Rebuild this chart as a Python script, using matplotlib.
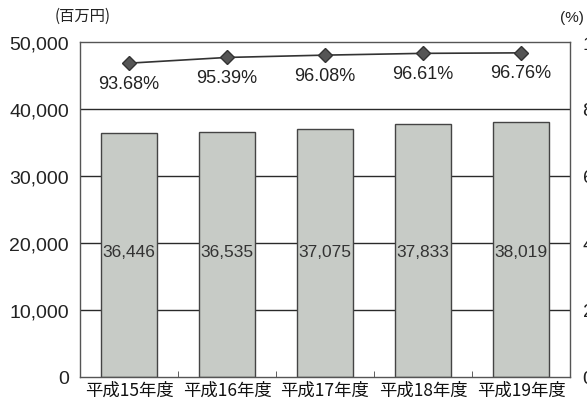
import matplotlib
matplotlib.use("Agg")
import matplotlib.pyplot as plt
import numpy as np

plt.rcParams['font.family'] = ['Liberation Sans', 'Noto Sans CJK JP', 'DejaVu Sans']

categories = ['平成15年度', '平成16年度', '平成17年度', '平成18年度', '平成19年度']
amounts = [36446, 36535, 37075, 37833, 38019]
amount_labels = ['36,446', '36,535', '37,075', '37,833', '38,019']
rates = [93.68, 95.39, 96.08, 96.61, 96.76]
rate_labels = ['93.68%', '95.39%', '96.08%', '96.61%', '96.76%']
left_ticks = [0, 10000, 20000, 30000, 40000, 50000]
left_ticklabels = ['0', '10,000', '20,000', '30,000', '40,000', '50,000']
right_ticks = [0, 20, 40, 60, 80, 100]
right_ticklabels = ['0', '20', '40', '60', '80', '100']

fig = plt.figure(figsize=(5.87, 4.02), dpi=100)
ax = fig.add_axes([80/587, 24/402, 490/587, 335/402])
x = np.arange(len(categories))

ax.set_xlim(-0.5, len(categories) - 0.5)
ax.set_ylim(0, 50000)
for yv in left_ticks[1:-1]:
    ax.axhline(yv, color='#2a2a2a', lw=1.0, zorder=1)
ax.bar(x, amounts, width=0.57, color='#c7cbc6', edgecolor='#444444', linewidth=1.0, zorder=2)
for xi, lab in zip(x, amount_labels):
    ax.text(xi, 18800, lab, ha='center', va='center', fontsize=12.5,
            color='#333333', zorder=3)

ax.set_yticks(left_ticks)
ax.set_yticklabels(left_ticklabels, fontsize=14, color='#222222')
ax.tick_params(axis='y', length=0, pad=8)
ax.set_xticks(x)
ax.set_xticklabels(categories, fontsize=12.5, family=['Noto Sans CJK JP', 'DejaVu Sans'], color='#111111')
ax.tick_params(axis='x', length=0, pad=3)
ax.set_xticks(x[:-1] + 0.5, minor=True)
ax.tick_params(axis='x', which='minor', direction='in', length=4, color='#444444')
for s in ax.spines.values():
    s.set_color('#555555')
    s.set_linewidth(1.0)

ax2 = ax.twinx()
ax2.set_ylim(0, 100)
ax2.plot(x, rates, color='#333333', lw=1.2, marker='D', markersize=7,
         markerfacecolor='#555555', markeredgecolor='#333333', zorder=5)
for xi, r, lab in zip(x, rates, rate_labels):
    ax2.annotate(lab, (xi, r), xytext=(0, -14.5), textcoords='offset points',
                 ha='center', va='center', fontsize=13, color='#222222')
ax2.set_yticks(right_ticks)
ax2.set_yticklabels(right_ticklabels, fontsize=14, color='#222222')
ax2.tick_params(axis='y', length=0, pad=9)
for s in ax2.spines.values():
    s.set_visible(False)

fig.text(55/587, 1 - 16/402, '(百万円)', fontsize=11, family=['Noto Sans CJK JP', 'DejaVu Sans'],
         va='center', ha='left', color='#222222')
fig.text(560/587, 1 - 18/402, '(%)', fontsize=11, va='center', ha='left', color='#222222')

fig.savefig('out.png', dpi=100)
